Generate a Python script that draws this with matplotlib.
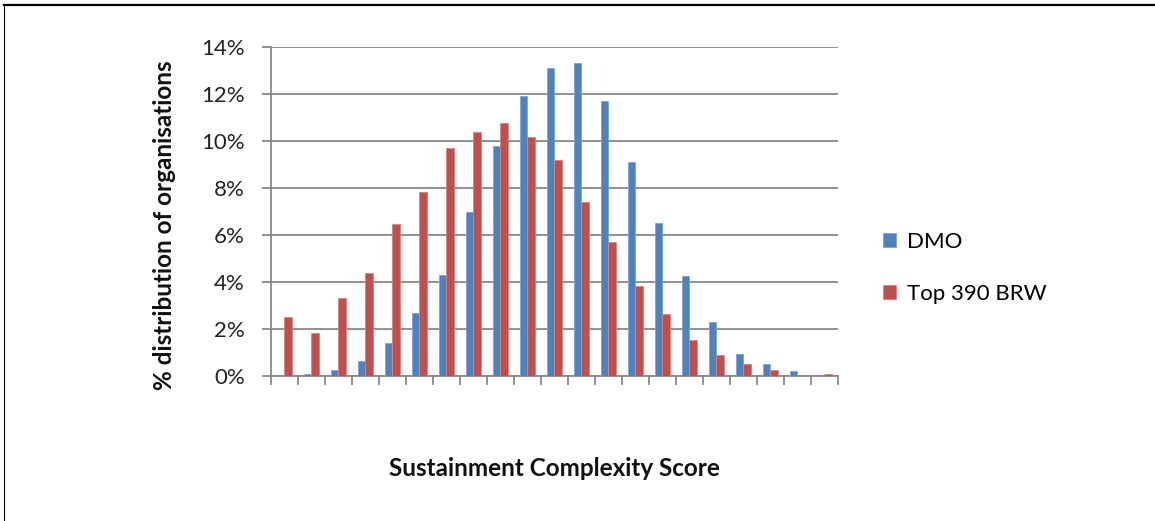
import numpy as np
import matplotlib
matplotlib.use('Agg')
import matplotlib.pyplot as plt
from matplotlib.lines import Line2D
from matplotlib.ticker import FuncFormatter

plt.rcParams['font.family'] = ['Lato', 'DejaVu Sans']

# distribution per score band (percent of organisations)
dmo = [0.0, 0.1, 0.25, 0.65, 1.4, 2.7, 4.3, 7.0, 9.8, 11.9, 13.1,
       13.3, 11.7, 9.1, 6.5, 4.25, 2.3, 0.95, 0.5, 0.2, 0.0]
top390 = [2.5, 1.85, 3.3, 4.4, 6.45, 7.85, 9.7, 10.4, 10.75, 10.15, 9.2,
          7.4, 5.7, 3.85, 2.65, 1.55, 0.9, 0.5, 0.25, 0.0, 0.1]
series_names = ['DMO', 'Top 390 BRW']
y_ticks = [0, 2, 4, 6, 8, 10, 12, 14]

blue = '#4F81BD'
red = '#C0504D'
grid_col = '#888888'

fig = plt.figure(figsize=(11.55, 5.21), dpi=100)
ax = fig.add_axes([270.7 / 1155, 1 - 376 / 521, (838 - 270.7) / 1155, (376 - 47) / 521])

x = np.arange(len(dmo))
w = 0.28
ax.bar(x - w / 2, dmo, w, color=blue, edgecolor='#7FA3D4', linewidth=0.6, label=series_names[0], zorder=3)
ax.bar(x + w / 2, top390, w, color=red, edgecolor='#D9827F', linewidth=0.6, label=series_names[1], zorder=3)

ax.set_xlim(-0.5, len(dmo) - 0.5)
ax.set_ylim(0, 14)
ax.set_yticks(y_ticks)
ax.yaxis.set_major_formatter(FuncFormatter(lambda v, p: '%d%%' % v))
ax.set_xticks(np.arange(len(dmo) + 1) - 0.5)
ax.set_xticklabels([])

ax.yaxis.grid(True, color=grid_col, linewidth=1.3, zorder=0)
ax.set_axisbelow(True)
for s in ['top', 'right']:
    ax.spines[s].set_visible(False)
for s in ['left', 'bottom']:
    ax.spines[s].set_color(grid_col)
    ax.spines[s].set_linewidth(1.3)
ax.tick_params(axis='both', direction='out', length=6.5, width=1.3, color=grid_col)
ax.tick_params(axis='y', labelsize=16, pad=12, labelcolor='#222222')

fig.text(165 / 1155, 1 - 225 / 521, '% distribution of organisations', rotation=90,
         ha='center', va='center', fontsize=17.5, fontweight='bold', color='#111111')
fig.text(554 / 1155, 1 - 469 / 521, 'Sustainment Complexity Score',
         ha='center', va='center', fontsize=17.5, fontweight='bold', color='#111111')

ax.legend(loc='center left', bbox_to_anchor=(863 / 1155, 1 - 268 / 521),
          bbox_transform=fig.transFigure, frameon=False, fontsize=16,
          handlelength=0.6, handleheight=0.6, handletextpad=0.5, labelspacing=1.45)

# outer frame: top and left edges only
fig.add_artist(Line2D([4 / 1155, 1], [1 - 4.5 / 521, 1 - 4.5 / 521], color='black', linewidth=1.6,
                      transform=fig.transFigure))
fig.add_artist(Line2D([3.5 / 1155, 3.5 / 1155], [0, 1 - 4.5 / 521], color='black', linewidth=0.8,
                      transform=fig.transFigure))

fig.savefig('out.png', dpi=100)
